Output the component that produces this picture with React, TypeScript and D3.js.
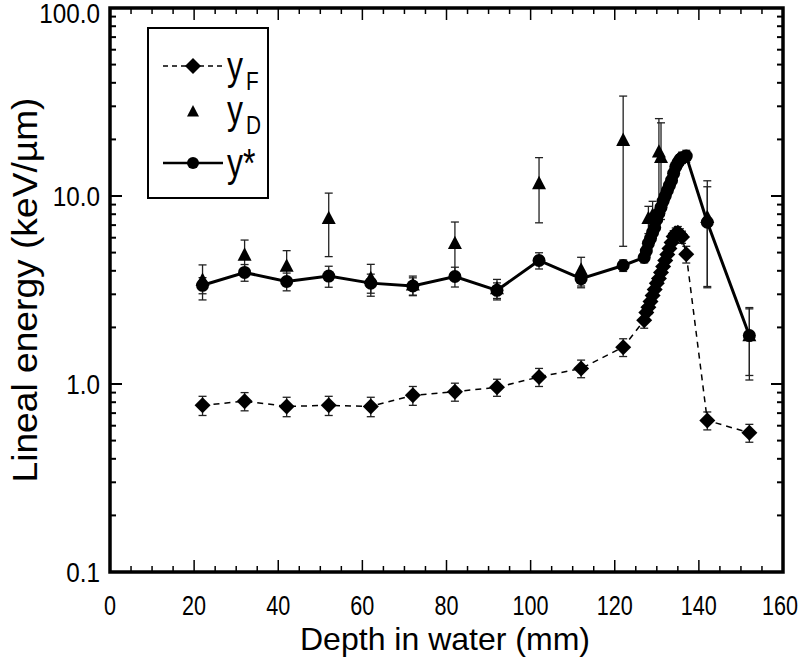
import React from "react";
import * as d3 from "d3";

// ---- data ----
const depthF = [22, 32, 42, 52, 62, 72, 82, 92, 102, 112, 122, 127, 127.5, 128, 128.5, 129, 129.5, 130, 130.5, 131, 131.5, 132, 132.5, 133, 133.5, 134, 134.5, 135, 135.5, 136, 137, 142, 152];
const valF = [0.77, 0.81, 0.76, 0.77, 0.76, 0.87, 0.91, 0.96, 1.09, 1.21, 1.57, 2.18, 2.4, 2.56, 2.75, 2.96, 3.18, 3.43, 3.64, 3.92, 4.22, 4.54, 4.88, 5.26, 5.66, 6.09, 6.31, 6.38, 6.24, 6.05, 4.9, 0.64, 0.55];
const errF = [0.09, 0.09, 0.09, 0.09, 0.09, 0.1, 0.1, 0.1, 0.12, 0.13, 0.17, 0.2, 0.2, 0.2, 0.2, 0.2, 0.2, 0.25, 0.25, 0.3, 0.3, 0.3, 0.35, 0.35, 0.4, 0.45, 0.45, 0.5, 0.45, 0.45, 0.5, 0.07, 0.06];

const depthStar = [22, 32, 42, 52, 62, 72, 82, 92, 102, 112, 122, 127, 127.5, 128, 128.5, 129, 129.5, 130, 130.5, 131, 131.5, 132, 132.5, 133, 133.5, 134, 134.5, 135, 135.5, 136, 137, 142, 152];
const valStar = [3.35, 3.92, 3.51, 3.75, 3.44, 3.32, 3.73, 3.15, 4.54, 3.63, 4.27, 4.71, 5.1, 5.6, 5.95, 6.4, 6.8, 7.5, 8.1, 8.7, 9.4, 10.0, 10.7, 11.4, 12.1, 13.2, 14.3, 15.0, 15.6, 16.0, 16.3, 7.25, 1.81];
const errStar = [0.33, 0.4, 0.38, 0.48, 0.4, 0.35, 0.45, 0.3, 0.45, 0.38, 0.3, 0.3, 0.3, 0.35, 0.35, 0.4, 0.4, 0.45, 0.5, 0.55, 0.6, 0.6, 0.65, 0.7, 0.75, 0.8, 0.9, 1.0, 1.0, 1.1, 1.2, 3.95, 0.7];

const depthD = [22, 32, 42, 52, 62, 72, 82, 92, 102, 112, 122, 128, 129, 130.5, 131, 142, 152];
const valD = [3.55, 4.83, 4.22, 7.56, 3.63, 3.35, 5.57, 3.2, 11.6, 4.02, 19.7, 7.56, 7.87, 17.1, 16.0, 7.65, 1.8];
const errD = [0.75, 1.0, 0.9, 2.8, 0.7, 0.4, 1.7, 0.4, 4.4, 0.7, 14.3, 1.25, 1.5, 8.7, 8.5, 4.4, 0.75];

const xMajorTicks = [0, 20, 40, 60, 80, 100, 120, 140, 160];
const yMajorTicks = [0.1, 1, 10, 100];
const yTickLabels = ["0.1", "1.0", "10.0", "100.0"];
const xTitle = "Depth in water (mm)";
const yTitle = "Lineal energy (keV/\u00b5m)";

// ---- layout ----
const W = 800, H = 658;
const L = 110, R = 783, T = 8, B = 572;
const narrow = "'Liberation Sans', Arial, sans-serif";

export default function App() {
  const x = d3.scaleLinear().domain([0, 160]).range([L, R]);
  const y = d3.scaleLog().domain([0.1, 100]).range([B, T]);

  const xMinor = d3.range(0, 161, 5).filter((v) => v % 20 !== 0);
  const yMinor: number[] = [];
  [0.1, 1, 10].forEach((d) => {
    for (let k = 2; k <= 9; k++) yMinor.push(d * k);
  });

  const starPts = depthStar.map((d, i) => ({ d, v: valStar[i], e: errStar[i] }));
  const fPts = depthF.map((d, i) => ({ d, v: valF[i], e: errF[i] }));
  const dPts = depthD.map((d, i) => ({ d, v: valD[i], e: errD[i] }));

  const line = d3
    .line<{ d: number; v: number }>()
    .x((p) => x(p.d))
    .y((p) => y(p.v));

  const diamond = (cx: number, cy: number, s = 8) =>
    `M${cx},${cy - s}L${cx + s},${cy}L${cx},${cy + s}L${cx - s},${cy}Z`;
  const tri = (cx: number, cy: number, s = 7) =>
    `M${cx},${cy - s * 1.15}L${cx + s},${cy + s * 0.75}L${cx - s},${cy + s * 0.75}Z`;

  const errBar = (p: { d: number; v: number; e: number }, key: string) => {
    const cx = x(p.d);
    const lo = Math.max(p.v - p.e, 0.11);
    const y1 = y(p.v + p.e);
    const y2 = y(lo);
    return (
      <g key={key} stroke="#222" strokeWidth={1.3}>
        <line x1={cx} x2={cx} y1={y1} y2={y2} />
        <line x1={cx - 4} x2={cx + 4} y1={y1} y2={y1} />
        <line x1={cx - 4} x2={cx + 4} y1={y2} y2={y2} />
      </g>
    );
  };

  return (
    <svg width={W} height={H} style={{ display: "block", position: "absolute", left: 0, top: 0 }}>
      <rect x={0} y={0} width={W} height={H} fill="#fff" />

      {/* error bars */}
      {dPts.map((p, i) => errBar(p, "ed" + i))}
      {starPts.map((p, i) => errBar(p, "es" + i))}
      {fPts.map((p, i) => errBar(p, "ef" + i))}

      {/* yD triangles */}
      {dPts.map((p, i) => (
        <path key={"d" + i} d={tri(x(p.d), y(p.v))} fill="#000" />
      ))}

      {/* y* line and circles */}
      <path d={line(starPts) || ""} fill="none" stroke="#000" strokeWidth={3} />
      {starPts.map((p, i) => (
        <circle key={"s" + i} cx={x(p.d)} cy={y(p.v)} r={6.5} fill="#000" />
      ))}

      {/* yF dashed line and diamonds */}
      <path d={line(fPts) || ""} fill="none" stroke="#000" strokeWidth={1.5} strokeDasharray="6,5" />
      {fPts.map((p, i) => (
        <path key={"f" + i} d={diamond(x(p.d), y(p.v))} fill="#000" />
      ))}

      {/* frame */}
      <rect x={L} y={T} width={R - L} height={B - T} fill="none" stroke="#000" strokeWidth={3.5} />

      {/* x ticks */}
      {xMajorTicks.map((t) => (
        <g key={"xt" + t} stroke="#000" strokeWidth={1.5}>
          <line x1={x(t)} x2={x(t)} y1={B} y2={B - 12} />
          <line x1={x(t)} x2={x(t)} y1={T} y2={T + 12} />
        </g>
      ))}
      {xMinor.map((t) => (
        <g key={"xm" + t} stroke="#000" strokeWidth={1.5}>
          <line x1={x(t)} x2={x(t)} y1={B} y2={B - 6} />
          <line x1={x(t)} x2={x(t)} y1={T} y2={T + 6} />
        </g>
      ))}
      {/* y ticks */}
      {yMajorTicks.map((t) => (
        <g key={"yt" + t} stroke="#000" strokeWidth={2}>
          <line x1={L} x2={L + 12} y1={y(t)} y2={y(t)} />
          <line x1={R} x2={R - 12} y1={y(t)} y2={y(t)} />
        </g>
      ))}
      {yMinor.map((t, i) => (
        <g key={"ym" + i} stroke="#000" strokeWidth={2}>
          <line x1={L} x2={L + 6} y1={y(t)} y2={y(t)} />
          <line x1={R} x2={R - 6} y1={y(t)} y2={y(t)} />
        </g>
      ))}

      {/* tick labels */}
      {xMajorTicks.map((t) => (
        <text
          key={"xl" + t}
          transform={`translate(${Math.min(x(t), 780)},${615}) scale(0.8,1)`}
          textAnchor="middle"
          fontFamily={narrow}
          fontSize={27}
          fill="#000"
        >
          {t}
        </text>
      ))}
      {yMajorTicks.map((t, i) => (
        <text
          key={"yl" + t}
          transform={`translate(${100},${Math.max(y(t), 13) + 10}) scale(0.9,1)`}
          textAnchor="end"
          fontFamily={narrow}
          fontSize={27}
          fill="#000"
        >
          {yTickLabels[i]}
        </text>
      ))}

      {/* axis titles */}
      <text
        x={445}
        y={650}
        textAnchor="middle"
        fontFamily={narrow}
        fontSize={32}
        textLength={290}
        lengthAdjust="spacingAndGlyphs"
        fill="#000"
      >
        {xTitle}
      </text>
      <text
        transform={`translate(${37},${290}) rotate(-90)`}
        textAnchor="middle"
        fontFamily="'Liberation Sans', Arial, sans-serif"
        fontSize={35}
        textLength={385}
        lengthAdjust="spacingAndGlyphs"
        fill="#000"
      >
        {yTitle}
      </text>

      {/* legend */}
      <rect x={148} y={28} width={120} height={170} fill="#fff" stroke="#000" strokeWidth={2} />
      <line x1={163} x2={223} y1={66} y2={66} stroke="#000" strokeWidth={1.5} strokeDasharray="5,4" />
      <path d={diamond(193, 66)} fill="#000" />
      <text transform="translate(227,80) scale(0.8,1)" fontFamily={narrow} fontSize={40} fill="#000">y</text>
      <text transform="translate(246,90) scale(0.8,1)" fontFamily={narrow} fontSize={26} fill="#000">F</text>
      <path d={tri(193, 112, 6)} fill="#000" />
      <text transform="translate(227,124) scale(0.8,1)" fontFamily={narrow} fontSize={40} fill="#000">y</text>
      <text transform="translate(246,134) scale(0.8,1)" fontFamily={narrow} fontSize={26} fill="#000">D</text>
      <line x1={163} x2={223} y1={163} y2={163} stroke="#000" strokeWidth={2.5} />
      <circle cx={193} cy={163} r={6} fill="#000" />
      <text transform="translate(227,177) scale(0.8,1)" fontFamily={narrow} fontSize={40} fill="#000">y*</text>
    </svg>
  );
}
